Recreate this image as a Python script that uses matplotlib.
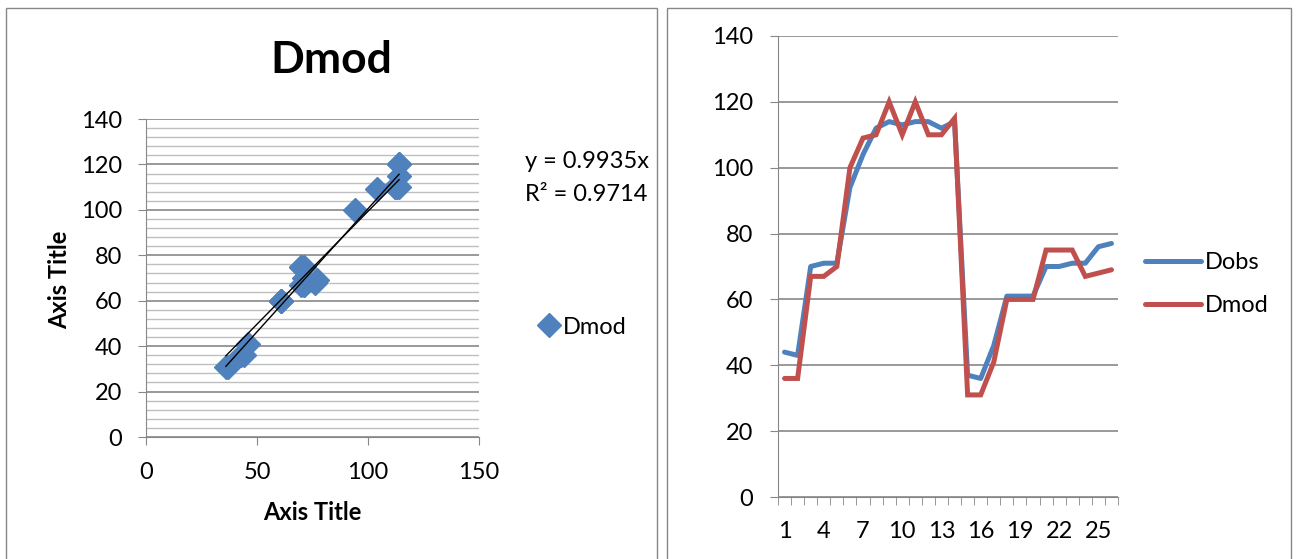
import numpy as np
import matplotlib
matplotlib.use("Agg")
import matplotlib.pyplot as plt
from matplotlib.patches import Rectangle
from matplotlib.ticker import MultipleLocator

plt.rcParams['font.family'] = ['Lato', 'DejaVu Sans']

# Observed and modelled values, 26 time steps
steps = list(range(1, 27))
dobs = [44, 43, 70, 71, 71, 94, 104, 112, 114, 113, 114, 114, 112, 114,
        37, 36, 46, 61, 61, 61, 70, 70, 71, 71, 76, 77]
dmod = [36, 36, 67, 67, 70, 100, 109, 110, 120, 110, 120, 110, 110, 115,
        31, 31, 41, 60, 60, 60, 75, 75, 75, 67, 68, 69]
xtick_labels = [1, 4, 7, 10, 13, 16, 19, 22, 25]
slope = 0.9935
r2 = 0.9714

BLUE = '#4F81BD'
RED = '#C0504D'
GRID = '#878787'
MINOR = '#BFBFBF'
FS = 17
W, H = 1297, 559

fig = plt.figure(figsize=(W / 100, H / 100), dpi=100)


def fx(px):
    return px / W


def fy(py):
    return 1 - py / H


# chart borders
for x0, x1 in [(6, 657), (667, 1291)]:
    fig.patches.append(Rectangle((fx(x0), fy(562)), fx(x1 - x0), fy(8) - fy(562),
                                 transform=fig.transFigure, fill=False,
                                 edgecolor=GRID, lw=1))

# ---- left: scatter of Dmod against Dobs ----
ax1 = fig.add_axes([fx(146), fy(437), fx(479 - 146), fy(119) - fy(437)])
ax1.set_xlim(0, 150)
ax1.set_ylim(0, 140)
ax1.xaxis.set_major_locator(MultipleLocator(50))
ax1.yaxis.set_major_locator(MultipleLocator(20))
ax1.yaxis.set_minor_locator(MultipleLocator(4))
ax1.grid(axis='y', which='minor', color=MINOR, lw=1)
ax1.grid(axis='y', which='major', color=GRID, lw=1.2)
ax1.set_axisbelow(True)
for s in ['top', 'right']:
    ax1.spines[s].set_visible(False)
for s in ['left', 'bottom']:
    ax1.spines[s].set_color(GRID)
ax1.tick_params(which='major', length=6, color=GRID, labelsize=FS)
ax1.tick_params(axis='y', pad=11)
ax1.tick_params(axis='x', pad=12)
ax1.tick_params(which='minor', length=0)

pts = ax1.plot(dobs, dmod, 'D', color=BLUE, ms=12.5, label='Dmod', zorder=3)
xs = np.array([min(dobs), max(dobs)])
ax1.plot(xs, slope * xs, color='black', lw=1, zorder=4)
a, b = np.polyfit(dobs, dmod, 1)
ax1.plot(xs, a * xs + b, color='black', lw=1, zorder=4)

fig.text(fx(331), fy(60), 'Dmod', ha='center', va='center',
         fontsize=32, fontweight='bold')
fig.text(fx(312), fy(512), 'Axis Title', ha='center', va='center',
         fontsize=FS, fontweight='bold')
fig.text(fx(60), fy(280), 'Axis Title', ha='center', va='center',
         fontsize=FS, fontweight='bold', rotation=90)
fig.text(fx(525), fy(162), f'y = {slope}x', ha='left', va='center', fontsize=FS)
fig.text(fx(525), fy(194), f'R\u00b2 = {r2}', ha='left', va='center', fontsize=FS)
ax1.legend(handles=pts, loc='center left', frameon=False, fontsize=FS,
           bbox_to_anchor=(fx(524), fy(327)), bbox_transform=fig.transFigure,
           handletextpad=0.05, borderpad=0, handlelength=1.1)

# ---- right: line chart over time ----
ax2 = fig.add_axes([fx(778), fy(497), fx(1118 - 778), fy(36) - fy(497)])
ax2.plot(steps, dobs, color=BLUE, lw=3.6, label='Dobs',
         solid_joinstyle='round', solid_capstyle='round')
ax2.plot(steps, dmod, color=RED, lw=3.6, label='Dmod',
         solid_joinstyle='miter', solid_capstyle='round')
ax2.set_xlim(0.5, 26.5)
ax2.set_ylim(0, 140)
ax2.yaxis.set_major_locator(MultipleLocator(20))
ax2.set_xticks(xtick_labels, [str(v) for v in xtick_labels])
ax2.set_xticks(np.arange(0.5, 27, 1), minor=True)
ax2.grid(axis='y', color=GRID, lw=1.2)
ax2.set_axisbelow(True)
for s in ['top', 'right']:
    ax2.spines[s].set_visible(False)
for s in ['left', 'bottom']:
    ax2.spines[s].set_color(GRID)
ax2.tick_params(axis='x', which='major', length=0, labelsize=FS, pad=17)
ax2.tick_params(axis='x', which='minor', length=6, color=GRID)
ax2.tick_params(axis='y', length=6, color=GRID, labelsize=FS, pad=12)
ax2.legend(loc='center left', frameon=False, fontsize=FS,
           bbox_to_anchor=(fx(1133), fy(284)), bbox_transform=fig.transFigure,
           handlelength=2.4, handletextpad=0.15, labelspacing=0.95, borderpad=0)

fig.savefig('out.png', dpi=100)
